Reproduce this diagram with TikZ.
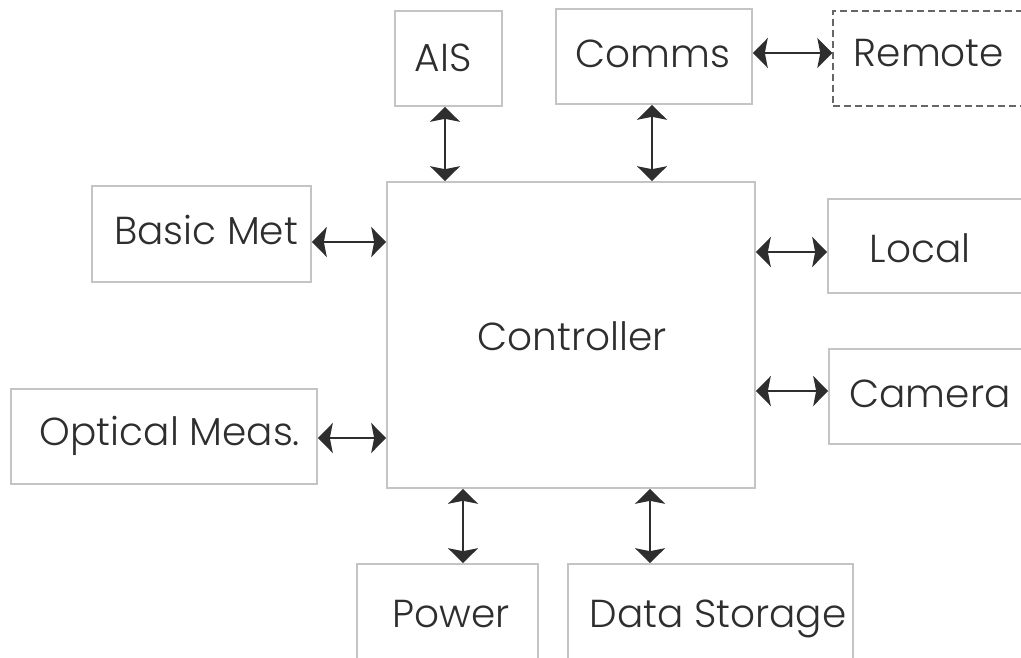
\documentclass[tikz,border=0pt]{standalone}
\usepackage{fontspec}
\IfFontExistsTF{Poppins Light}{\setmainfont{Poppins Light}}{\setmainfont{Poppins}}
\usetikzlibrary{arrows.meta}

\definecolor{boxline}{HTML}{C4C4C4}
\definecolor{ink}{HTML}{2E2E2E}
\definecolor{dashline}{HTML}{666666}

\tikzset{
  unitbox/.style={draw=boxline, line width=1.6pt, rectangle, inner sep=0pt},
  remotebox/.style={draw=dashline, line width=1.4pt, dash pattern=on 7pt off 4pt, rectangle, inner sep=0pt},
  lbl/.style={text=ink, font=\fontsize{39}{42}\selectfont, anchor=base, inner sep=0pt},
  biarrow/.style={draw=ink, line width=1.8pt,
    {Stealth[length=15pt,width=30pt,inset=3pt]}-{Stealth[length=15pt,width=30pt,inset=3pt]}},
}

\begin{document}
\begin{tikzpicture}[x=1pt, y=-1pt]
  \useasboundingbox (0,0) rectangle (1021,658);
  \clip (0,0) rectangle (1021,658);

  % boxes
  \node[unitbox, minimum width=107pt, minimum height=95pt] (ais) at (448.5,58.5) {};
  \node[unitbox, minimum width=196pt, minimum height=95pt] (comms) at (654,56.5) {};
  \node[remotebox, minimum width=207pt, minimum height=95pt] (remote) at (936.5,58.5) {};
  \node[unitbox, minimum width=219pt, minimum height=96pt] (basic) at (201.5,234) {};
  \node[unitbox, minimum width=306pt, minimum height=95pt] (optical) at (164,436.5) {};
  \node[unitbox, minimum width=368pt, minimum height=306pt] (ctrl) at (571,335) {};
  \node[unitbox, minimum width=212pt, minimum height=94pt] (local) at (934,246) {};
  \node[unitbox, minimum width=211pt, minimum height=95pt] (camera) at (934.5,396.5) {};
  \node[unitbox, minimum width=181pt, minimum height=116pt] (power) at (447.5,622) {};
  \node[unitbox, minimum width=285pt, minimum height=116pt] (data) at (710.5,622) {};

  % labels
  \node[lbl] (aisT) at (443,72) {AIS};
  \node[lbl] (commsT) at (653,68) {Comms};
  \node[lbl] (remoteT) at (929,67) {Remote};
  \node[lbl] (basicT) at (206,244) {Basic Met};
  \node[lbl] (localT) at (920,262) {Local};
  \node[lbl] (ctrlT) at (572,350) {Controller};
  \node[lbl] (cameraT) at (930,407) {Camera};
  \node[lbl] (opticalT) at (170,445) {Optical Meas.};
  \node[lbl] (powerT) at (451,627) {Power};
  \node[lbl] (dataT) at (718,627) {Data Storage};

  % links
  \draw[biarrow] ([xshift=-3.5pt]ais.south) -- ([xshift=-3.5pt]ais.south |- ctrl.north);
  \draw[biarrow] ([xshift=-2pt]comms.south) -- ([xshift=-2pt]comms.south |- ctrl.north);
  \draw[biarrow] ([yshift=3.5pt]comms.east) -- ([yshift=3.5pt]comms.east -| remote.west);
  \draw[biarrow] ([yshift=-8pt]basic.east) -- ([yshift=-8pt]basic.east -| ctrl.west);
  \draw[biarrow] ([yshift=-1.5pt]optical.east) -- ([yshift=-1.5pt]optical.east -| ctrl.west);
  \draw[biarrow] ([yshift=-6pt]local.west -| ctrl.east) -- ([yshift=-6pt]local.west);
  \draw[biarrow] ([yshift=5.5pt]camera.west -| ctrl.east) -- ([yshift=5.5pt]camera.west);
  \draw[biarrow] ([xshift=15.5pt]power.north |- ctrl.south) -- ([xshift=15.5pt]power.north);
  \draw[biarrow] ([xshift=-60.5pt]data.north |- ctrl.south) -- ([xshift=-60.5pt]data.north);
\end{tikzpicture}
\end{document}
